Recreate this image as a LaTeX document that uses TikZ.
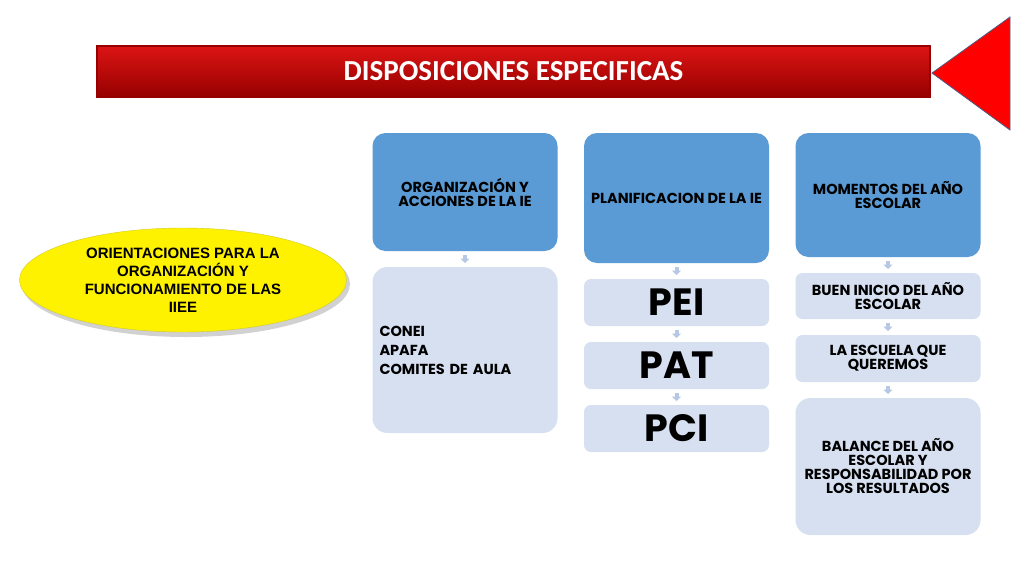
\documentclass[tikz,border=0pt]{standalone}
\usepackage{fontspec}
\setmainfont{Carlito}
\newfontfamily\gothicfont{Poppins}
\newfontfamily\arialfont{Liberation Sans}
\usepackage{xcolor}
\usepackage{tikz}
\usetikzlibrary{arrows.meta,positioning,shapes.geometric}

\definecolor{headblue}{RGB}{91,155,213}
\definecolor{paleblue}{RGB}{214,224,240}
\definecolor{tipblue}{RGB}{183,200,228}
\definecolor{bannerred}{RGB}{204,0,0}
\definecolor{toptone}{RGB}{220,20,20}
\definecolor{darkred}{RGB}{150,0,0}
\definecolor{triedge}{RGB}{80,90,130}

\begin{document}
\begin{tikzpicture}[x=1pt,y=-1pt,node distance=16pt,
                    gaparrow/.style={draw=tipblue,line width=4pt,
                      -{Triangle[width=9pt,length=4.5pt]},
                      shorten <=4pt,shorten >=4pt}]
  \tikzstyle{every node}=[inner sep=0pt,outer sep=0pt]
  \tikzstyle{head}=[rectangle,rounded corners=13pt,fill=headblue,
                    minimum width=185pt,align=center,
                    font=\gothicfont\bfseries\fontsize{14.5}{14}\selectfont]
  \tikzstyle{item}=[rectangle,rounded corners=7pt,fill=paleblue,
                    minimum width=185pt,align=center,
                    font=\gothicfont\bfseries\fontsize{14.5}{14}\selectfont]
  \tikzstyle{big}=[item,font=\gothicfont\bfseries\fontsize{38}{40}\selectfont]

  \useasboundingbox (0,0) rectangle (1024,576);
  \fill[white] (0,0) rectangle (1024,576);

  % title bar and arrow
  \node (Banner) at (513.5,71.5) [rectangle,minimum width=833pt,minimum height=51pt,
        top color=toptone,middle color=bannerred,bottom color=darkred,
        draw=darkred,line width=1.2pt,text=white,
        font=\bfseries\fontsize{29}{32}\selectfont] {DISPOSICIONES ESPECIFICAS};
  \draw[fill=red,draw=triedge,line width=0.8pt] (1010,17) -- (1010,130) -- (932,73) -- cycle;

  % yellow ellipse
  \fill[black,opacity=0.18] (186,284) ellipse [x radius=164,y radius=53];
  \node (Orient) at (183,280) [ellipse,fill=yellow,draw=yellow!80!black,line width=0.4pt,
        minimum width=327pt,minimum height=104pt,align=center,
        font=\arialfont\bfseries\fontsize{15}{18}\selectfont]
        {ORIENTACIONES PARA LA\\ORGANIZACIÓN Y\\FUNCIONAMIENTO DE LAS\\IIEE};

  % columns
  \node[head] (Organiz)  at (465,133) [anchor=north,minimum height=118pt] {ORGANIZACIÓN Y\\ACCIONES DE LA IE};
  \node[item] (Comites)  [below=of Organiz,minimum height=166pt,rounded corners=15pt,
        text width=171pt,align=left] {CONEI\\[5pt]APAFA\\[5pt]COMITES DE AULA};

  \node[head] (Planif)   at (676.5,133) [anchor=north,minimum height=130pt] {PLANIFICACION DE LA IE};
  \node[big]  (Pei)      [below=of Planif,minimum height=47pt] {PEI};
  \node[big]  (Pat)      [below=of Pei,minimum height=47pt] {PAT};
  \node[big]  (Pci)      [below=of Pat,minimum height=47pt] {PCI};

  \node[head] (Momentos) at (888,133) [anchor=north,minimum height=124pt] {MOMENTOS DEL AÑO\\ESCOLAR};
  \node[item] (Inicio)   [below=of Momentos,minimum height=46pt] {BUEN INICIO DEL AÑO\\ESCOLAR};
  \node[item] (Escuela)  [below=of Inicio,minimum height=47pt] {LA ESCUELA QUE\\QUEREMOS};
  \node[item] (Balance)  [below=of Escuela,minimum height=137pt,rounded corners=15pt]
        {BALANCE DEL AÑO\\ESCOLAR Y\\RESPONSABILIDAD POR\\LOS RESULTADOS};

  \path (Organiz) edge [gaparrow] (Comites)
        (Planif)  edge [gaparrow] (Pei)
        (Pei)     edge [gaparrow] (Pat)
        (Pat)     edge [gaparrow] (Pci)
        (Momentos) edge [gaparrow] (Inicio)
        (Inicio)  edge [gaparrow] (Escuela)
        (Escuela) edge [gaparrow] (Balance);
\end{tikzpicture}
\end{document}
